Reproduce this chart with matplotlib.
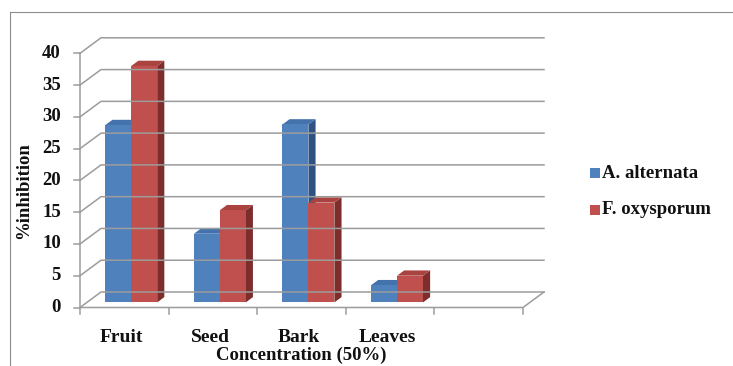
import matplotlib
matplotlib.use("Agg")
import matplotlib.pyplot as plt
from matplotlib.patches import Polygon, Rectangle

# ── Data ──────────────────────────────────────────────────────────────────────

categories = ["Fruit", "Seed", "Bark", "Leaves"]
alternata = [27.9, 10.8, 28.0, 2.7]
oxysporum = [37.2, 14.5, 15.7, 4.2]
series_names = ["A. alternata", "F. oxysporum"]
y_ticks = [0, 5, 10, 15, 20, 25, 30, 35, 40]

# ── Layout (pixels of a 733x366 canvas) ───────────────────────────────────────

W, H = 733, 366
X0_PX, Y0_PX = 80, 307.5       # front origin of the value axis
CAT_PX, UNIT_PX = 88.6, 6.355  # one category slot / one percent
N_SLOTS = 5                    # the floor has one empty slot on the right

DX = 21 / CAT_PX               # depth offset of the back wall, data units
DY = 15.5 / UNIT_PX
BAR_W = 0.293
F0, F1 = 0.33, 0.67            # bar depth span as fraction of the floor

BLUE = ("#4F81BD", "#4472AD", "#2E5283")   # front, top, side
RED = ("#C0504D", "#AA4340", "#7D2E2C")
GRID = "#9C9C9C"
TXT = "#111111"
SERIF = "Liberation Serif"

fig = plt.figure(figsize=(W / 100, H / 100), dpi=100)
ax = fig.add_axes([0, 0, 1, 1])
ax.set_xlim(-X0_PX / CAT_PX, (W - X0_PX) / CAT_PX)
ax.set_ylim(-(H - Y0_PX) / UNIT_PX, Y0_PX / UNIT_PX)
ax.axis("off")


def px(x, y):
    """Canvas pixel -> data coordinates."""
    return (x - X0_PX) / CAT_PX, (Y0_PX - y) / UNIT_PX


# chart area border (only the top and left edges fall inside the canvas)
bx, by = px(10, 12)
ax.add_patch(Rectangle((bx, by), 20, -200, fill=False, ec="#8C8C8C", lw=0.8))

# ── Walls and floor ───────────────────────────────────────────────────────────

for v in y_ticks:
    ax.plot([0, DX, N_SLOTS + DX], [v, v + DY, v + DY], color=GRID, lw=1.1)
    ax.plot([-6 / CAT_PX, 0], [v, v], color=GRID, lw=1.1)
    ax.text(*px(61, Y0_PX - v * UNIT_PX), str(v), ha="right", va="center",
            fontsize=13.5, fontweight="bold", family=SERIF, color=TXT)

ax.plot([0, 0], [0, y_ticks[-1]], color=GRID, lw=1.1)
ax.plot([0, N_SLOTS, N_SLOTS + DX], [0, 0, DY], color=GRID, lw=1.1)
for i in range(N_SLOTS + 1):
    ax.plot([i, i], [0, -6 / UNIT_PX], color=GRID, lw=1.1)

# ── Bars ──────────────────────────────────────────────────────────────────────


def bar3d(xl, value, colors):
    front, top, side = colors
    x0 = xl + F0 * DX
    y0 = F0 * DY
    x1, y1 = x0 + BAR_W, y0 + value
    ddx, ddy = (F1 - F0) * DX, (F1 - F0) * DY
    ax.add_patch(Polygon([(x1, y0), (x1, y1), (x1 + ddx, y1 + ddy),
                          (x1 + ddx, y0 + ddy)], closed=True, fc=side, ec="none"))
    ax.add_patch(Polygon([(x0, y1), (x1, y1), (x1 + ddx, y1 + ddy),
                          (x0 + ddx, y1 + ddy)], closed=True, fc=top, ec="none"))
    ax.add_patch(Rectangle((x0, y0), BAR_W, value, fc=front, ec="none"))


for i, cat in enumerate(categories):
    left = i + 0.5 - BAR_W
    bar3d(left, alternata[i], BLUE)
    bar3d(left + BAR_W, oxysporum[i], RED)
    ax.text(i + 0.47, px(0, 337)[1], cat, ha="center", va="center",
            fontsize=14, fontweight="bold", family=SERIF, color=TXT)

# ── Axis titles and legend ────────────────────────────────────────────────────

ax.text(N_SLOTS / 2, px(0, 355)[1], "Concentration (50%)", ha="center",
        va="center", fontsize=13.5, fontweight="bold", family=SERIF, color=TXT)
ax.text(*px(24, 191), "%inhibition", ha="center", va="center", rotation=90,
        fontsize=13.5, fontweight="bold", family=SERIF, color=TXT)

for k, (name, col) in enumerate(zip(series_names, (BLUE, RED))):
    cy = 173 + 37 * k
    sx, sy = px(590, cy + 5)
    ax.add_patch(Rectangle((sx, sy), 10 / CAT_PX, 10 / UNIT_PX, fc=col[0], ec="none"))
    ax.text(*px(602, cy), name, ha="left", va="center", fontsize=13.5,
            fontweight="bold", family=SERIF, color=TXT)

fig.savefig("out.png", dpi=100, facecolor="white")
